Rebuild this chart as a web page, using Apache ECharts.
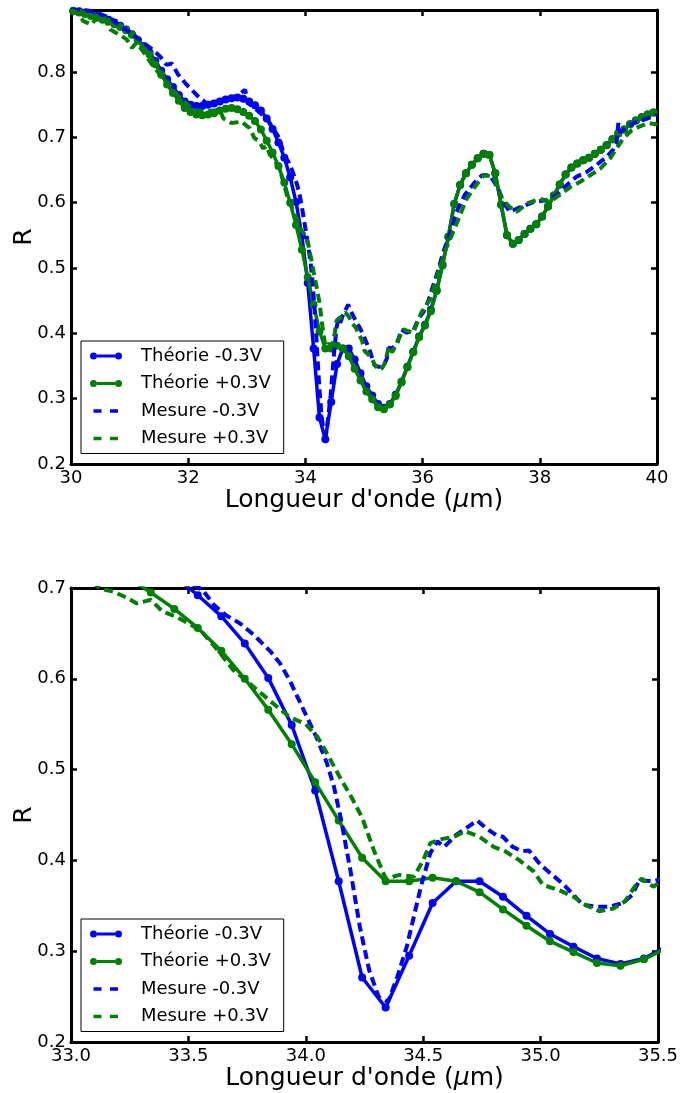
<!DOCTYPE html>
<html><head><meta charset="utf-8">
<script src="https://cdn.jsdelivr.net/npm/echarts@6/dist/echarts.min.js"></script>
<style>html,body{margin:0;padding:0;background:#fff}#c{width:684px;height:1093px}</style>
</head><body><div id="c"></div>
<script>
// ---- DATA ----
const seriesNames = ['Théorie -0.3V', 'Théorie +0.3V', 'Mesure -0.3V', 'Mesure +0.3V'];

const theoryWavelength = [
  30.04,30.14,30.24,30.34,30.44,30.54,30.64,30.74,30.84,30.94,
  31.04,31.14,31.24,31.34,31.44,31.54,31.64,31.74,31.84,31.94,
  32.04,32.14,32.24,32.34,32.44,32.54,32.64,32.74,32.84,32.94,
  33.04,33.14,33.24,33.34,33.44,33.54,33.64,33.74,33.84,33.94,
  34.04,34.14,34.24,34.34,34.44,34.54,34.64,34.74,34.84,34.94,
  35.04,35.14,35.24,35.34,35.44,35.54,35.64,35.74,35.84,35.94,
  36.04,36.14,36.24,36.34,36.44,36.54,36.64,36.74,36.84,36.94,
  37.04,37.14,37.24,37.34,37.44,37.54,37.64,37.74,37.84,37.94,
  38.04,38.14,38.24,38.34,38.44,38.54,38.64,38.74,38.84,38.94,
  39.04,39.14,39.24,39.34,39.44,39.54,39.64,39.74,39.84,39.94
];
const theoryMinus = [
  0.894,0.893,0.891,0.889,0.886,0.883,0.880,0.876,0.871,0.865,
  0.858,0.849,0.840,0.830,0.817,0.802,0.789,0.777,0.765,0.755,
  0.750,0.748,0.748,0.750,0.752,0.755,0.758,0.760,0.761,0.759,
  0.755,0.749,0.741,0.729,0.713,0.692,0.669,0.639,0.601,0.549,
  0.477,0.377,0.271,0.238,0.295,0.353,0.377,0.377,0.360,0.339,
  0.319,0.305,0.292,0.286,0.292,0.306,0.326,0.349,0.372,0.395,
  0.413,0.436,0.466,0.505,0.548,0.598,0.627,0.645,0.658,0.668,
  0.675,0.673,0.645,0.597,0.550,0.537,0.543,0.552,0.560,0.567,
  0.579,0.594,0.611,0.628,0.643,0.654,0.660,0.665,0.669,0.675,
  0.681,0.688,0.697,0.706,0.712,0.720,0.726,0.731,0.735,0.738
];
const theoryPlus = [
  0.893,0.891,0.889,0.886,0.883,0.880,0.877,0.873,0.869,0.864,
  0.857,0.848,0.838,0.827,0.812,0.796,0.781,0.768,0.756,0.745,
  0.739,0.735,0.734,0.735,0.737,0.741,0.744,0.745,0.743,0.739,
  0.733,0.725,0.712,0.695,0.677,0.656,0.631,0.600,0.566,0.528,
  0.486,0.444,0.403,0.377,0.377,0.381,0.377,0.365,0.346,0.328,
  0.311,0.299,0.287,0.284,0.291,0.304,0.325,0.348,0.371,0.394,
  0.412,0.434,0.465,0.504,0.548,0.598,0.627,0.645,0.658,0.668,
  0.675,0.673,0.645,0.597,0.550,0.537,0.543,0.552,0.560,0.567,
  0.579,0.594,0.611,0.628,0.643,0.654,0.660,0.665,0.669,0.675,
  0.681,0.688,0.697,0.706,0.712,0.720,0.726,0.731,0.735,0.738
];

const mesureMinusWl = [
  30.00,30.10,30.38,30.67,30.84,31.06,31.23,31.38,31.52,31.63,31.72,31.83,31.97,32.09,32.20,32.32,32.49,32.66,32.83,32.97,
  33.03,33.17,33.34,33.46,33.56,33.61,33.66,33.72,33.78,33.85,33.89,33.93,33.97,34.01,34.05,34.09,34.12,34.15,34.19,34.23,
  34.27,34.31,34.35,34.39,34.43,34.46,34.49,34.53,34.56,34.59,34.64,34.68,34.73,34.77,34.81,34.84,34.88,34.92,34.95,35.00,
  35.05,35.10,35.14,35.18,35.24,35.29,35.35,35.39,35.42,35.48,35.56,35.64,35.73,35.84,35.93,36.01,36.10,36.18,36.27,36.35,
  36.44,36.50,36.58,36.72,36.87,37.01,37.15,37.29,37.38,37.49,37.66,37.89,38.12,38.29,38.46,38.63,38.80,38.97,39.14,39.25,
  39.31,39.34,39.37,39.42,39.60,39.77,39.94,40.00
];
const mesureMinusR = [
  0.897,0.896,0.893,0.883,0.870,0.858,0.845,0.835,0.824,0.811,0.813,0.796,0.781,0.770,0.760,0.752,0.755,0.760,0.763,0.773,
  0.752,0.742,0.729,0.712,0.698,0.681,0.670,0.661,0.648,0.630,0.617,0.599,0.577,0.555,0.533,0.507,0.481,0.445,0.389,0.327,
  0.279,0.250,0.244,0.272,0.305,0.338,0.371,0.408,0.421,0.415,0.428,0.435,0.444,0.435,0.428,0.426,0.415,0.410,0.411,0.395,
  0.384,0.373,0.362,0.351,0.349,0.349,0.353,0.362,0.378,0.377,0.383,0.406,0.401,0.404,0.422,0.432,0.450,0.473,0.498,0.524,
  0.546,0.562,0.586,0.612,0.629,0.642,0.642,0.622,0.601,0.586,0.593,0.601,0.604,0.612,0.627,0.640,0.647,0.658,0.670,0.681,
  0.690,0.722,0.708,0.711,0.722,0.727,0.732,0.735
];

const mesurePlusWl = [
  30.00,30.10,30.21,30.35,30.44,30.55,30.67,30.81,30.95,31.04,31.12,31.29,31.40,31.52,31.69,31.86,32.09,32.32,32.54,32.60,
  32.74,32.91,33.05,33.13,33.18,33.24,33.28,33.34,33.39,33.45,33.55,33.63,33.69,33.76,33.86,33.93,34.00,34.05,34.09,34.14,
  34.20,34.24,34.29,34.34,34.40,34.46,34.50,34.53,34.57,34.63,34.68,34.74,34.80,34.85,34.91,34.97,35.01,35.08,35.14,35.19,
  35.25,35.31,35.36,35.40,35.43,35.48,35.52,35.67,35.84,35.98,36.13,36.27,36.40,36.52,36.64,36.75,36.89,37.04,37.21,37.35,
  37.49,37.61,37.78,38.00,38.17,38.34,38.52,38.69,38.86,39.03,39.20,39.31,39.42,39.57,39.71,39.85,39.97,40.00
];
const mesurePlusR = [
  0.895,0.891,0.878,0.873,0.883,0.886,0.865,0.858,0.850,0.837,0.845,0.824,0.809,0.796,0.778,0.760,0.742,0.740,0.742,0.729,
  0.722,0.724,0.714,0.699,0.696,0.689,0.683,0.687,0.674,0.668,0.654,0.630,0.610,0.595,0.573,0.558,0.550,0.536,0.518,0.494,
  0.467,0.447,0.411,0.380,0.384,0.382,0.400,0.419,0.423,0.426,0.432,0.426,0.415,0.410,0.400,0.388,0.373,0.367,0.360,0.351,
  0.344,0.347,0.355,0.371,0.380,0.371,0.378,0.406,0.401,0.432,0.452,0.495,0.530,0.555,0.581,0.606,0.624,0.642,0.640,0.606,
  0.593,0.586,0.599,0.606,0.601,0.612,0.624,0.632,0.642,0.652,0.668,0.683,0.698,0.711,0.717,0.722,0.720,0.722
];

// axis ranges / ticks
const panelXRange = [[30, 40, 2], [33, 35.5, 0.5]];
const panelYRange = [[0.2, 0.895, 0.1], [0.2, 0.7, 0.1]];
const xAxisTitle = "Longueur d'onde ({i|μ}m)";
const yAxisTitle = 'R';

// ---- CHART ----
const FONT = 'DejaVu Sans';
const colors = ['#0000ff', '#008000', '#0000ff', '#008000'];
const grids = [
  {left: 71, width: 586, top: 10, height: 454, containLabel: false, outerBoundsMode: 'none'},
  {left: 71, width: 587, top: 588, height: 454, containLabel: false, outerBoundsMode: 'none'}
];
const pairs = (xs, ys) => xs.map((x, i) => [x, ys[i]]);
const seriesData = [
  pairs(theoryWavelength, theoryMinus),
  pairs(theoryWavelength, theoryPlus),
  pairs(mesureMinusWl, mesureMinusR),
  pairs(mesurePlusWl, mesurePlusR)
];
// legend icons: marker-line-marker for theory, two dashes for measure
const iconTheory = 'path://M0,7A3.5,3.5 0 1 1 7,7A3.5,3.5 0 1 1 0,7Z M25,7A3.5,3.5 0 1 1 32,7A3.5,3.5 0 1 1 25,7Z M7,5.5L25,5.5L25,8.5L7,8.5Z';
const iconMesure = 'path://M0,0M32,14M3.5,5.3L11.5,5.3L11.5,8.7L3.5,8.7Z M20,5.3L28,5.3L28,8.7L20,8.7Z';

const xAxes = [], yAxes = [], series = [], legends = [];
grids.forEach((g, gi) => {
  const [xmin, xmax, xint] = panelXRange[gi];
  const [ymin, ymax, yint] = panelYRange[gi];
  const common = {
    type: 'value', gridIndex: gi, splitLine: {show: false},
    axisLine: {show: true, onZero: false, lineStyle: {color: '#000', width: 3}},
    axisTick: {show: true, inside: true, length: 6, lineStyle: {color: '#000', width: 2.5}}
  };
  xAxes.push(Object.assign({}, common, {
    min: xmin, max: xmax, interval: xint, position: 'bottom',
    axisLabel: {show: true, color: '#000', fontFamily: FONT, fontSize: 18, margin: 5, hideOverlap: false,
      formatter: v => gi === 0 ? String(v) : v.toFixed(1)},
    name: xAxisTitle, nameLocation: 'middle', nameGap: 22,
    nameTextStyle: {color: '#000', fontFamily: FONT, fontSize: 25, verticalAlign: 'top',
      rich: {i: {fontStyle: 'italic', fontFamily: FONT, fontSize: 25, color: '#000'}}}
  }));
  xAxes.push(Object.assign({}, common, {
    min: xmin, max: xmax, interval: xint, position: 'top', axisLabel: {show: false}
  }));
  yAxes.push(Object.assign({}, common, {
    min: ymin, max: ymax, interval: yint, position: 'left',
    axisLabel: {show: true, color: '#000', fontFamily: FONT, fontSize: 18, margin: 5, hideOverlap: false,
      formatter: v => v > ymax - 0.01 && gi === 0 ? '' : v.toFixed(1)},
    name: yAxisTitle, nameLocation: 'middle', nameGap: 34, nameRotate: 90, nameMoveOverlap: false,
    nameTextStyle: {color: '#000', fontFamily: FONT, fontSize: 25}
  }));
  yAxes.push(Object.assign({}, common, {
    min: ymin, max: ymax, interval: yint, position: 'right', axisLabel: {show: false}
  }));
  seriesNames.forEach((name, si) => {
    const isTheory = si < 2;
    series.push({
      name, type: 'line', xAxisIndex: gi * 2, yAxisIndex: gi * 2,
      data: seriesData[si], clip: true, smooth: false,
      symbol: isTheory ? 'circle' : 'none', symbolSize: 8, showSymbol: isTheory, showAllSymbol: true,
      color: colors[si],
      itemStyle: {color: colors[si]},
      lineStyle: {color: colors[si], width: isTheory ? 3.5 : 4, type: isTheory ? 'solid' : [9, 5]},
      z: 2 + si, emphasis: {disabled: true}
    });
  });
  legends.push({
    data: seriesNames.map((n, i) => ({name: n, icon: i < 2 ? iconTheory : iconMesure})),
    orient: 'vertical', left: 81, top: gi === 0 ? 341 : 919,
    backgroundColor: '#fff', borderColor: '#000', borderWidth: 1, borderRadius: 0,
    padding: [6, 13, 6, 9], itemWidth: 32, itemHeight: 14, itemGap: 9.5,
    itemStyle: {borderWidth: 0},
    textStyle: {color: '#000', fontFamily: FONT, fontSize: 18, padding: [0, 0, 0, 14]},
    selectedMode: false
  });
});

const chart = echarts.init(document.getElementById('c'), null, {renderer: 'canvas'});
chart.setOption({
  animation: false, backgroundColor: '#fff',
  grid: grids, xAxis: xAxes, yAxis: yAxes, series, legend: legends
});
</script></body></html>
